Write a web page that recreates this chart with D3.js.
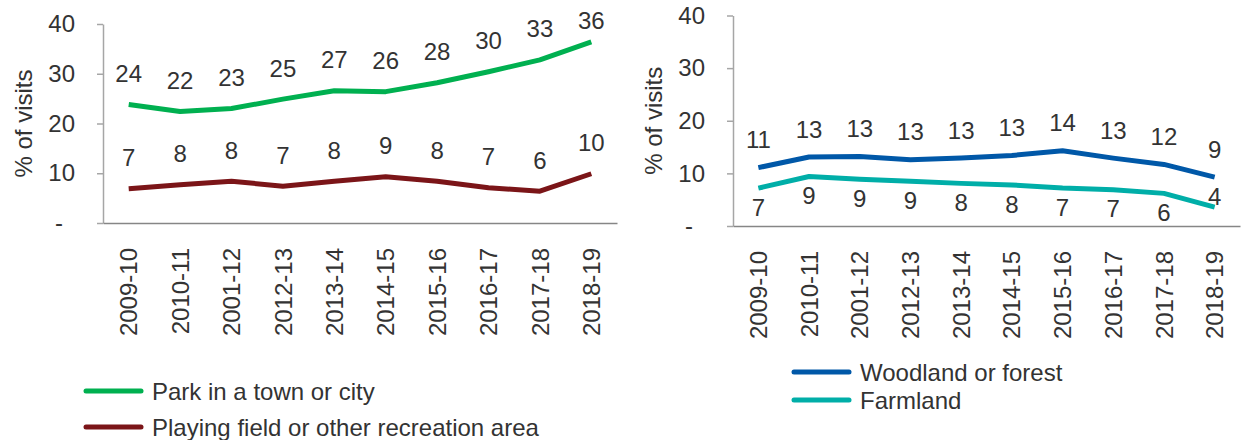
<!DOCTYPE html>
<html>
<head>
<meta charset="utf-8">
<script src="https://cdnjs.cloudflare.com/ajax/libs/d3/7.8.5/d3.min.js"></script>
<style>
  body { margin: 0; background: #fff; }
  svg text { font-family: 'Liberation Sans', Arial, sans-serif; fill: #333; }
</style>
</head>
<body>
<div id="chart"></div>
<script>
// categories (note: "2001-12" is how the source labels it)
const years = ['2009-10', '2010-11', '2001-12', '2012-13', '2013-14', '2014-15', '2015-16', '2016-17', '2017-18', '2018-19'];

// % of visits
const parkValues = [23.8, 22.4, 23.0, 24.9, 26.6, 26.4, 28.2, 30.4, 32.8, 36.4];
const playingValues = [6.9, 7.7, 8.4, 7.4, 8.4, 9.3, 8.4, 7.1, 6.4, 9.9];
const woodlandValues = [11.1, 13.1, 13.2, 12.6, 12.9, 13.4, 14.3, 12.9, 11.7, 9.3];
const farmlandValues = [7.2, 9.4, 8.9, 8.5, 8.1, 7.8, 7.2, 6.9, 6.2, 3.6];

const yTicks = [0, 10, 20, 30, 40];
const yTitle = '% of visits';

const FONT = '24px';

const svg = d3.select('#chart')
  .append('svg')
  .attr('width', 1247)
  .attr('height', 440);

function drawPanel(p) {
  const x = d3.scaleBand().domain(years).range([p.left, p.right]);
  const y = d3.scaleLinear().domain([0, 40]).range([p.bottom, p.top]);
  const g = svg.append('g');

  // y axis
  const yAxis = g.append('g')
    .attr('transform', `translate(${p.left},0)`)
    .call(d3.axisLeft(y).tickValues(yTicks).tickSize(6).tickSizeOuter(0).tickPadding(22)
      .tickFormat(d => (d === 0 ? '-' : d)));
  yAxis.select('.domain').attr('stroke', '#a6a6a6').attr('stroke-width', 1.5);
  yAxis.selectAll('.tick line').attr('stroke', '#a6a6a6').attr('stroke-width', 1.5);
  yAxis.selectAll('.tick text')
    .style('font-size', FONT)
    .attr('fill', '#333')
    .attr('dx', d => (d === 0 ? -12 : 0));

  // x axis, labels turned on their side
  const xAxis = g.append('g')
    .attr('transform', `translate(0,${p.bottom})`)
    .call(d3.axisBottom(x).tickSize(0).tickSizeOuter(0));
  xAxis.select('.domain').attr('stroke', '#868686').attr('stroke-width', 1.5);
  xAxis.selectAll('.tick text')
    .style('font-size', FONT)
    .attr('fill', '#333')
    .attr('text-anchor', 'end')
    .attr('transform', 'rotate(-90)')
    .attr('x', -25)
    .attr('y', 0)
    .attr('dy', '0.36em');

  // y title
  g.append('text')
    .attr('transform', `translate(${p.titleX},${(p.top + p.bottom) / 2}) rotate(-90)`)
    .attr('text-anchor', 'middle')
    .style('font-size', FONT)
    .text(yTitle);

  const line = d3.line()
    .x((d, i) => x(years[i]) + x.bandwidth() / 2)
    .y(d => y(d));

  p.series.forEach(s => {
    g.append('path')
      .datum(s.values)
      .attr('fill', 'none')
      .attr('stroke', s.color)
      .attr('stroke-width', 5)
      .attr('stroke-linejoin', 'round')
      .attr('d', line);

    // data labels
    g.selectAll(null)
      .data(s.values)
      .enter()
      .append('text')
      .attr('x', (d, i) => x(years[i]) + x.bandwidth() / 2)
      .attr('y', (d, i) => {
        const side = s.sides ? s.sides[i] : s.side;
        if (side === 'above') return Math.max(y(d) - s.gapAbove, 20);
        if (side === 'nudge') return y(d) - 11;
        return y(d) + s.gapBelow;
      })
      .attr('dy', '0.36em')
      .attr('text-anchor', 'middle')
      .style('font-size', FONT)
      .text(d => Math.round(d));
  });

  // legend
  p.series.forEach((s, i) => {
    const ly = p.legendY + i * p.legendStep;
    g.append('line')
      .attr('x1', p.legendX).attr('x2', p.legendX + 55)
      .attr('y1', ly).attr('y2', ly)
      .attr('stroke', s.color)
      .attr('stroke-width', 5)
      .attr('stroke-linecap', 'round');
    g.append('text')
      .attr('x', p.legendX + 66)
      .attr('y', ly)
      .attr('dy', '0.36em')
      .style('font-size', FONT)
      .text(s.name);
  });
}

drawPanel({
  left: 103, right: 617, top: 24, bottom: 223, titleX: 32,
  legendX: 86, legendY: 391, legendStep: 36,
  series: [
    { name: 'Park in a town or city', values: parkValues, color: '#00b050', side: 'above', gapAbove: 31 },
    { name: 'Playing field or other recreation area', values: playingValues, color: '#7b1518', side: 'above', gapAbove: 31 }
  ]
});

drawPanel({
  left: 733, right: 1240, top: 15.5, bottom: 226, titleX: 662,
  legendX: 794, legendY: 372, legendStep: 28,
  series: [
    { name: 'Woodland or forest', values: woodlandValues, color: '#0058a8', side: 'above', gapAbove: 28 },
    { name: 'Farmland', values: farmlandValues, color: '#00aea8', gapBelow: 19,
      sides: ['below', 'below', 'below', 'below', 'below', 'below', 'below', 'below', 'below', 'nudge'] }
  ]
});
</script>
</body>
</html>
